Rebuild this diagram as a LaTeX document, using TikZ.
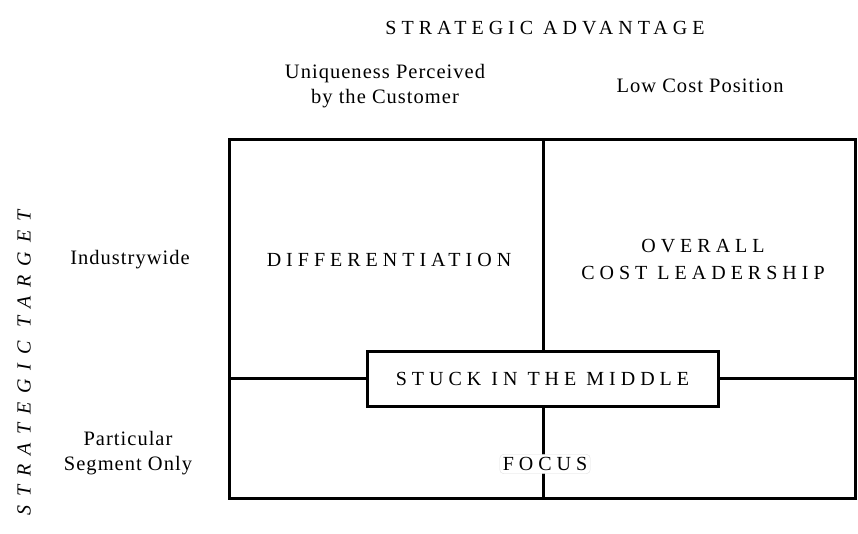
\documentclass[tikz,border=0pt]{standalone}
\usepackage{fontspec}
\setmainfont{Liberation Serif}
\newcommand{\spaced}{\addfontfeature{LetterSpace=25}}
\newcommand{\widespaced}{\addfontfeature{LetterSpace=45}}
\newcommand{\lightspaced}{\addfontfeature{LetterSpace=5}}
\begin{document}
\begin{tikzpicture}[x=1pt,y=-1pt,
  grid/.style={line width=3pt},
  capstext/.style={font=\fontsize{20}{27}\selectfont\spaced, align=center},
  lbl/.style={font=\fontsize{20.5}{25.5}\selectfont\lightspaced, align=center}]
\useasboundingbox (0,0) rectangle (858,534);
% matrix frame
\coordinate (tl) at (229,140);
\coordinate (br) at (855,498);
\coordinate (mt) at (543,140);
\coordinate (mb) at (543,498);
\coordinate (ml) at (229,378);
\coordinate (mr) at (855,378);
\draw[grid] (tl) rectangle (br);
\draw[grid] (mt) -- (mb);
\draw[grid] (ml) -- (mr);
% centre box
\node[grid, draw, fill=white, capstext, minimum width=351pt, minimum height=55pt, inner sep=0pt] (stuck) at (542.5,378.5) {STUCK IN THE MIDDLE};
\node[capstext, fill=white, draw=black!12, line width=0.4pt, rounded corners=4pt, inner sep=3pt] (focus) at (545,464) {FOCUS};
\node[capstext] (diff) at (389,260) {DIFFERENTIATION};
\node[capstext] (cost) at (703,259) {OVERALL\\COST LEADERSHIP};
% axis headings
\node[capstext] (adv) at (545,28) {STRATEGIC ADVANTAGE};
\node[lbl] (uniq) at (385,86) {Uniqueness Perceived\\by the Customer};
\node[lbl] (low) at (700,86) {Low Cost Position};
\node[font=\fontsize{20}{24}\selectfont\itshape\widespaced, rotate=90] (target) at (24,363) {STRATEGIC TARGET};
\node[lbl] (ind) at (130,260) {Industrywide};
\node[lbl] (part) at (128,453) {Particular\\Segment Only};
\end{tikzpicture}
\end{document}
